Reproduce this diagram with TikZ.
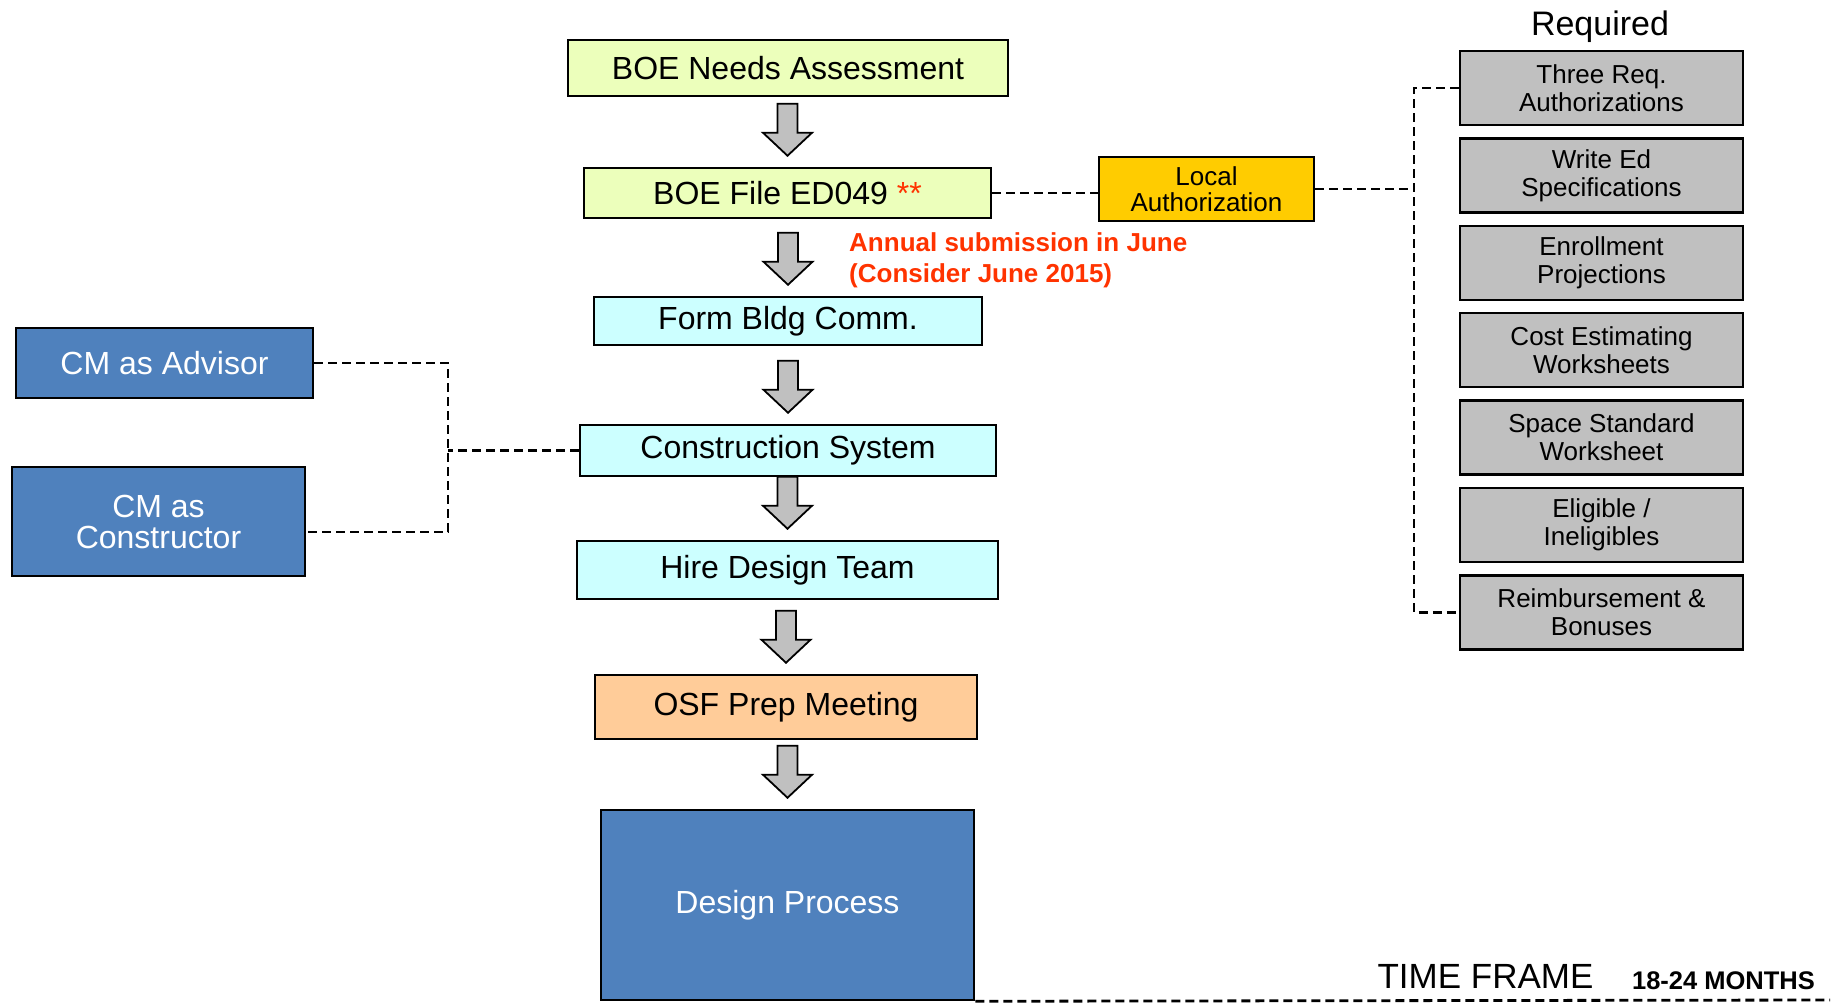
\documentclass[tikz,border=0pt]{standalone}
\usepackage{fontspec}
\setmainfont{Liberation Sans}
\usetikzlibrary{calc}
\definecolor{boegreen}{RGB}{236,255,187}
\definecolor{commcyan}{RGB}{204,255,255}
\definecolor{osforange}{RGB}{255,204,153}
\definecolor{cmblue}{RGB}{79,129,189}
\definecolor{localgold}{RGB}{255,204,0}
\definecolor{reqgray}{RGB}{192,192,192}
\definecolor{arrowgray}{RGB}{192,192,192}
\definecolor{notered}{RGB}{255,51,0}

\begin{document}
\begin{tikzpicture}[x=1pt,y=-1pt,
	box/.style={draw=black,line width=2.5pt,inner sep=0pt,align=center,font=\fontsize{32}{36}\selectfont},
	req/.style={box,fill=reqgray,minimum width=283pt,minimum height=74pt,font=\fontsize{26}{28}\selectfont},
	link/.style={line width=2.8pt,dash pattern=on 9pt off 5pt},
	blockarrow/.style={draw=black,line width=1.8pt,fill=arrowgray,line join=miter}]
				\useasboundingbox (0,0) rectangle (1839,1002);
				\node[box,fill=boegreen,minimum width=440pt,minimum height=56pt] (needs) at (788,68) {BOE Needs Assessment};
				\node[box,fill=boegreen,minimum width=407pt,minimum height=50pt] (file) at (787.5,193) {BOE File ED049 \textcolor{notered}{**}};
				\node[box,fill=commcyan,minimum width=388pt,minimum height=48pt] (form) at (788,321) {Form Bldg Comm.};
				\node[box,fill=commcyan,minimum width=416pt,minimum height=51pt] (system) at (788,450.5) {Construction System};
				\node[box,fill=commcyan,minimum width=421pt,minimum height=58pt] (hire) at (787.5,570) {Hire Design Team};
				\node[box,fill=osforange,minimum width=382pt,minimum height=64pt] (osf) at (786,707) {OSF Prep Meeting};
				\node[box,fill=cmblue,text=white,minimum width=373pt,minimum height=190pt] (design) at (787.5,905) {Design Process};
				\foreach \nxt in {file,form,system,hire,osf,design}
					\draw[blockarrow] ($(\nxt.north)+(0,-11)$) -- ++(-24.5,-23) -- ++(14.5,0) -- ++(0,-29) -- ++(20,0) -- ++(0,29) -- ++(14.5,0) -- cycle;
				\node[anchor=west,align=left,inner sep=0pt,text=notered,font=\bfseries\fontsize{26}{31}\selectfont] (annual) at (849,260) {Annual submission in June\\(Consider June 2015)};
				\node[box,fill=cmblue,text=white,minimum width=297pt,minimum height=70pt] (advisor) at (164.5,363) {CM as Advisor};
				\node[box,fill=cmblue,text=white,minimum width=293pt,minimum height=109pt,font=\fontsize{32}{31}\selectfont] (constructor) at (158.5,521.5) {CM as\\Constructor};
				\coordinate (lbus) at (448,450.5);
				\draw[link] (advisor.east) -| (lbus) |- ([yshift=-10.5pt]constructor.east);
				\draw[link] (system.west) -- (system.west -| lbus);
				\node[box,fill=localgold,minimum width=215pt,minimum height=64pt,font=\fontsize{26}{26}\selectfont] (local) at (1206.5,189) {Local\\Authorization};
				\draw[link,line width=1.8pt] (file.east) -- (file.east -| local.west);
				\node[font=\fontsize{34}{36}\selectfont,inner sep=0pt] (required) at (1600,27) {Required};
				\foreach \txt [count=\i] in {{Three Req.\\Authorizations},{Write Ed\\Specifications},{Enrollment\\Projections},{Cost Estimating\\Worksheets},{Space Standard\\Worksheet},{Eligible /\\Ineligibles},{Reimbursement \&\\Bonuses}}
					\node[req] (r\i) at (1601.5,{88+87.4*(\i-1)}) {\txt};
				\coordinate (rbus) at (1414,189);
				\draw[link] (r1.west) -| (rbus) |- (r7.west);
				\draw[link] (local.east) -- (rbus);
				\coordinate (tfend) at (1830,1000);
				\draw[link] (design.south east) -- (tfend);
				\node[font=\fontsize{35}{36}\selectfont,inner sep=0pt] (timeframe) at (1485.5,976) {TIME FRAME};
				\node[font=\bfseries\fontsize{25.5}{28}\selectfont,inner sep=0pt] (months) at (1723.5,981) {18-24 MONTHS};
\end{tikzpicture}
\end{document}
